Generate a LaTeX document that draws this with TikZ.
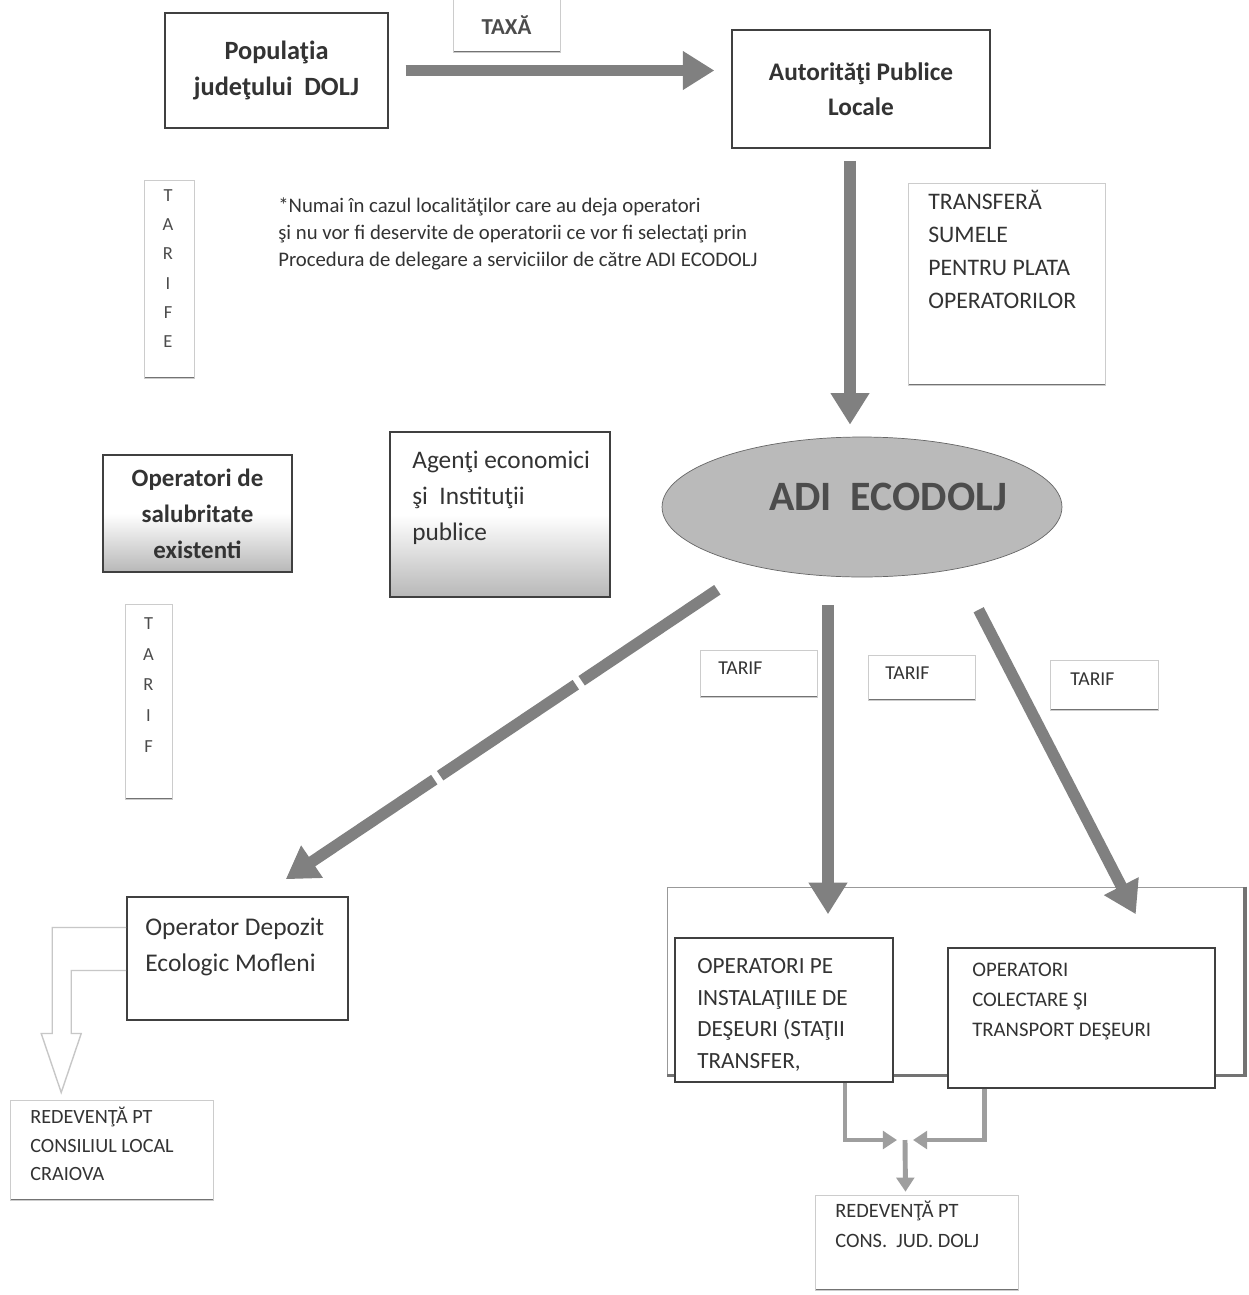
\documentclass[tikz,border=0pt]{standalone}
\usepackage{fontspec}
\setmainfont{Carlito}
\usetikzlibrary{arrows.meta,shapes.geometric}

\tikzset{
  box/.style={draw=black!75, line width=0.9pt, fill=white, inner sep=0pt},
  shadebox/.style={box, top color=white, bottom color=black!28, middle color=white},
  softbox/.style={draw=black!20, line width=0.4pt, inner sep=0pt, text=black!70,
    path picture={\draw[black!55, line width=1.4pt] (path picture bounding box.south west) -- (path picture bounding box.south east);}},
  txt/.style={inner sep=0pt, align=left, text=black!80},
  flow/.style={draw=black!50, line width=6.5pt, -{Triangle[length=18pt,width=21pt]}},
  flowdash/.style={flow, dash pattern=on 93pt off 4pt},
  feed/.style={draw=black!38, line width=2.8pt, -{Triangle[length=8pt,width=10pt]}},
  hollow/.style={draw=black!22, line width=0.8pt},
}

\begin{document}
\begin{tikzpicture}[x=0.02cm, y=-0.02cm]
  \path[use as bounding box, fill=white] (0,0) rectangle (1248,1295);

  % top row
  \node[box, minimum width=4.46cm, minimum height=2.30cm, align=center, text=black!80,
        font=\bfseries\fontsize{15}{20}\selectfont] (pop) at (276.5,70.5) {Populaţia\\judeţului\ \ DOLJ};
  \node[softbox, minimum width=2.14cm, minimum height=1.08cm,
        font=\bfseries\fontsize{13}{14}\selectfont] (taxa) at (506.5,25) {TAXĂ};
  \node[box, minimum width=5.16cm, minimum height=2.36cm, align=center, text=black!80,
        font=\bfseries\fontsize{14.4}{20}\selectfont] (auto) at (861,89) {Autorităţi Publice\\Locale};

  \node[softbox, minimum width=1.0cm, minimum height=3.96cm] (tarife) at (169,279) {};
  \node[txt, align=center, text=black!70, font=\fontsize{10.5}{16.6}\selectfont] (tarife-t) at (168,268.5) {T\\A\\R\\I\\F\\E};
  \node[txt, anchor=north west, font=\fontsize{11.8}{15.4}\selectfont] (note) at (278,197)
    {*Numai în cazul localităţilor care au deja operatori\\şi nu vor fi deservite de operatorii ce vor fi selectaţi prin\\Procedura de delegare a serviciilor de către ADI ECODOLJ};
  \node[softbox, minimum width=3.94cm, minimum height=4.04cm] (transf) at (1006.5,284) {};
  \node[txt, anchor=north west, font=\fontsize{13.5}{18.7}\selectfont] (transf-t) at (928,190)
    {TRANSFERĂ\\SUMELE\\PENTRU PLATA\\OPERATORILOR};

  % middle row
  \node[shadebox, minimum width=3.78cm, minimum height=2.34cm, align=center, text=black!80,
        font=\bfseries\fontsize{14.2}{20.4}\selectfont] (salub) at (197.5,513.5) {Operatori de\\salubritate\\existenti};
  \node[shadebox, minimum width=4.40cm, minimum height=3.30cm] (agenti) at (500,514.5) {};
  \node[txt, anchor=north west, font=\fontsize{14.4}{20.4}\selectfont] (agenti-t) at (412,451)
    {Agenţi economici\\şi\ \ Instituţii\\publice};
  \node[ellipse, draw=black!60, fill=black!27, minimum width=8cm, minimum height=2.8cm,
        label={[name=adi-t, xshift=15pt, yshift=5.7pt, text=black!70, font=\bfseries\fontsize{23.8}{28}\selectfont]center:ADI\ \ ECODOLJ}] (adi) at (862,507) {};

  \node[softbox, minimum width=2.34cm, minimum height=0.94cm] (tarif1) at (758.5,673.5) {};
  \node[softbox, minimum width=2.14cm, minimum height=0.90cm] (tarif2) at (921.5,677.5) {};
  \node[softbox, minimum width=2.16cm, minimum height=1.00cm] (tarif3) at (1104,685) {};
  \node[txt, anchor=west, font=\fontsize{11.2}{13}\selectfont] (tarif1-t) at (718,668) {TARIF};
  \node[txt, anchor=west, font=\fontsize{11.2}{13}\selectfont] (tarif2-t) at (885,673) {TARIF};
  \node[txt, anchor=west, font=\fontsize{11.2}{13}\selectfont] (tarif3-t) at (1070,679) {TARIF};
  \node[softbox, minimum width=0.94cm, minimum height=3.9cm] (tarif) at (148.5,702) {};
  \node[txt, align=center, text=black!70, font=\fontsize{10.5}{17.6}\selectfont] (tarif-t) at (148.5,685) {T\\A\\R\\I\\F};

  % bottom row
  \node[box, minimum width=4.42cm, minimum height=2.46cm] (depozit) at (237.5,958.5) {};
  \node[txt, anchor=north west, font=\fontsize{14.5}{20}\selectfont] (depozit-t) at (145,918)
    {Operator Depozit\\Ecologic Mofleni};
  \node[softbox, minimum width=4.06cm, minimum height=2.0cm] (redev1) at (111.5,1150) {};
  \node[txt, anchor=north west, font=\fontsize{11.5}{16.2}\selectfont] (redev1-t) at (30,1107)
    {REDEVENŢĂ PT\\CONSILIUL LOCAL\\CRAIOVA};

  \node[draw=black!40, line width=0.5pt, minimum width=11.56cm, minimum height=3.76cm, inner sep=0pt] (group) at (956,981) {};
  \draw[black!55, line width=2.2pt] (group.north east) -- (group.south east) -- (group.south west);
  \node[box, minimum width=4.36cm, minimum height=2.88cm] (oppe) at (784,1010) {};
  \node[txt, anchor=north west, font=\fontsize{13.2}{18}\selectfont] (oppe-t) at (697,958)
    {OPERATORI PE\\INSTALAŢIILE DE\\DEŞEURI (STAŢII\\TRANSFER,};
  \node[box, minimum width=5.34cm, minimum height=2.80cm] (opcol) at (1081.5,1018) {};
  \node[txt, anchor=north west, font=\fontsize{11.8}{17}\selectfont] (opcol-t) at (972,963)
    {OPERATORI\\COLECTARE ŞI\\TRANSPORT DEŞEURI};
  \node[softbox, minimum width=4.06cm, minimum height=1.9cm] (redev2) at (916.5,1242.5) {};
  \node[txt, anchor=north west, font=\fontsize{11.6}{17}\selectfont] (redev2-t) at (835,1201)
    {REDEVENŢĂ PT\\CONS.\ \ JUD. DOLJ};

  % arrows
  \draw[flow, shorten <=9.6pt, shorten >=9.6pt] (pop.east) -- (pop.east -| auto.west);
  \draw[flow] ([shift={(-11,12)}]auto.south) -- ([shift={(-12,-12)}]adi.north);
  \draw[flowdash] ([shift={(-3,33)}]adi.south west) -- ([shift={(-63,-17)}]depozit.north east);
  \draw[flow] ([shift={(-34,28)}]adi.south) -- ([shift={(44,-23)}]oppe.north);
  \draw[flow] ([shift={(-25,53)}]adi.south east) -- ([shift={(-80,-33)}]opcol.north east);

  \coordinate (join) at (905,1140);
  \draw[feed] ([shift={(61,0)}]oppe.south) |- ([shift={(-8,0)}]join);
  \draw[feed] ([shift={(-97,0)}]opcol.south) |- ([shift={(8,0)}]join);
  \draw[feed] (join) -- ([shift={(-11,-3)}]redev2.north);

  \draw[hollow] ([shift={(0,-31)}]depozit.west) -- ++(-74,0) -- ++(0,106) -- ++(-11,0)
    -- ++(20,59) -- ++(20,-59) -- ++(-10,0) -- ++(0,-63) -- ++(55,0);
\end{tikzpicture}
\end{document}
